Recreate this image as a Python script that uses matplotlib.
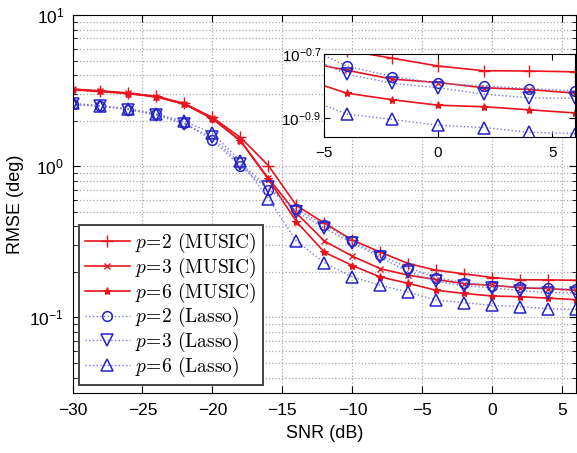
import numpy as np
import matplotlib
matplotlib.use('Agg')
import matplotlib.pyplot as plt
from matplotlib.font_manager import FontProperties
from matplotlib.ticker import FixedLocator, FixedFormatter, NullFormatter, LogLocator

plt.rcParams['font.family'] = ['Liberation Sans', 'DejaVu Sans']

# SNR grid (dB)
snr = [-30, -28, -26, -24, -22, -20, -18, -16, -14, -12, -10, -8, -6, -4, -2, 0, 2, 4, 6]

# RMSE (deg), MUSIC
music_p2 = [3.24, 3.15, 3.05, 2.90, 2.60, 2.10, 1.55, 1.01, 0.55, 0.42, 0.325, 0.27, 0.227,
            0.205, 0.194, 0.1835, 0.1774, 0.177, 0.176]
music_p3 = [3.22, 3.13, 3.03, 2.88, 2.58, 2.07, 1.48, 0.83, 0.49, 0.32, 0.254, 0.21, 0.19,
            0.178, 0.167, 0.163, 0.157, 0.155, 0.151]
music_p6 = [3.20, 3.12, 3.02, 2.87, 2.57, 2.06, 1.47, 0.82, 0.43, 0.27, 0.22, 0.185, 0.168,
            0.151, 0.144, 0.1385, 0.137, 0.134, 0.131]

# RMSE (deg), Lasso
lasso_p2 = [2.56, 2.50, 2.37, 2.20, 1.93, 1.49, 1.00, 0.70, 0.52, 0.41, 0.32, 0.257, 0.213,
            0.1835, 0.170, 0.162, 0.159, 0.156, 0.1535]
lasso_p3 = [2.56, 2.50, 2.37, 2.18, 1.90, 1.55, 1.04, 0.73, 0.50, 0.39, 0.31, 0.25, 0.20,
            0.173, 0.162, 0.157, 0.150, 0.146, 0.1455]
lasso_p6 = [2.60, 2.52, 2.40, 2.22, 1.98, 1.65, 1.08, 0.61, 0.32, 0.23, 0.185, 0.163, 0.147,
            0.130, 0.125, 0.120, 0.118, 0.114, 0.113]

labels = [r'$p\!=\!2\ \mathrm{(MUSIC)}$', r'$p\!=\!3\ \mathrm{(MUSIC)}$',
          r'$p\!=\!6\ \mathrm{(MUSIC)}$', r'$p\!=\!2\ \mathrm{(Lasso)}$',
          r'$p\!=\!3\ \mathrm{(Lasso)}$', r'$p\!=\!6\ \mathrm{(Lasso)}$']

red = '#e8141e'
blue = '#2323c8'
blue_line = '#7878dc'


def draw(ax, ms=7):
    ax.plot(snr, music_p2, '-', marker='+', color=red, lw=1.2, ms=ms + 1, mew=1.0, label=labels[0])
    ax.plot(snr, music_p3, '-', marker='x', color=red, lw=1.2, ms=ms - 2, mew=1.0, label=labels[1])
    ax.plot(snr, music_p6, '-', marker='*', color=red, lw=1.2, ms=ms - 1, mew=0.8, label=labels[2])
    for vals, mk, lab, extra in [(lasso_p2, 'o', labels[3], 0), (lasso_p3, 'v', labels[4], 1),
                                 (lasso_p6, '^', labels[5], 1)]:
        ax.plot(snr, vals, ':', marker=mk, color=blue_line, lw=1.0, ms=ms + extra,
                mfc='none', mec=blue, mew=1.1, label=lab)


fig = plt.figure(figsize=(5.77, 4.53), dpi=100)
ax = fig.add_axes([72.5 / 577, 60 / 453, (576.3 - 72.5) / 577, 378 / 453])
draw(ax)
ax.set_yscale('log')
ax.set_xlim(-30, 6)
ax.set_ylim(10 ** -1.5, 10)
ax.set_xticks([-30, -25, -20, -15, -10, -5, 0, 5])
ax.set_xticklabels(['\u221230', '\u221225', '\u221220', '\u221215', '\u221210', '\u22125', '0', '5'])
ax.yaxis.set_major_locator(FixedLocator([0.1, 1, 10]))
ax.yaxis.set_minor_locator(LogLocator(base=10, subs=np.arange(2, 10)))
ax.yaxis.set_minor_formatter(NullFormatter())
ax.tick_params(which='both', direction='in', top=True, right=True, labelsize=12.5)
ax.tick_params(axis='x', pad=7)
ax.tick_params(axis='y', pad=6)
ax.tick_params(which='major', length=5)
ax.tick_params(which='minor', length=3)
ax.grid(True, which='major', axis='x', ls=':', color='#a8a8a8', lw=0.9)
ax.grid(True, which='both', axis='y', ls=':', color='#a8a8a8', lw=0.9)
ax.set_xlabel('SNR (dB)', fontsize=13, labelpad=5)
ax.set_ylabel('RMSE (deg)', fontsize=13, labelpad=4)

leg = ax.legend(loc='upper left', bbox_to_anchor=(0.013, 0.445), borderaxespad=0,
                prop=FontProperties(size=14, math_fontfamily='cm'),
                handlelength=2.3, labelspacing=0.04, borderpad=0.3, handletextpad=0.3,
                fancybox=False, framealpha=1, edgecolor='#444444')
leg.get_frame().set_linewidth(1.4)

# zoomed inset
axi = fig.add_axes([324 / 577, (453 - 137.3) / 453, (575 - 324) / 577, (137.3 - 54) / 453])
draw(axi)
axi.set_yscale('log')
axi.set_xlim(-5, 6)
axi.set_ylim(0.11, 0.2)
axi.set_xticks([-5, 0, 5])
axi.set_xticklabels(['\u22125', '0', '5'])
axi.yaxis.set_major_locator(FixedLocator([10 ** -0.9, 10 ** -0.7]))
axi.yaxis.set_major_formatter(FixedFormatter([r'$\mathdefault{10^{-0.9}}$', r'$\mathdefault{10^{-0.7}}$']))
axi.yaxis.set_minor_locator(FixedLocator([]))
axi.tick_params(which='both', direction='in', top=True, right=True, labelsize=11, length=4)
axi.tick_params(axis='x', pad=6)
axi.tick_params(axis='y', pad=2)

fig.savefig('out.png', dpi=100)
